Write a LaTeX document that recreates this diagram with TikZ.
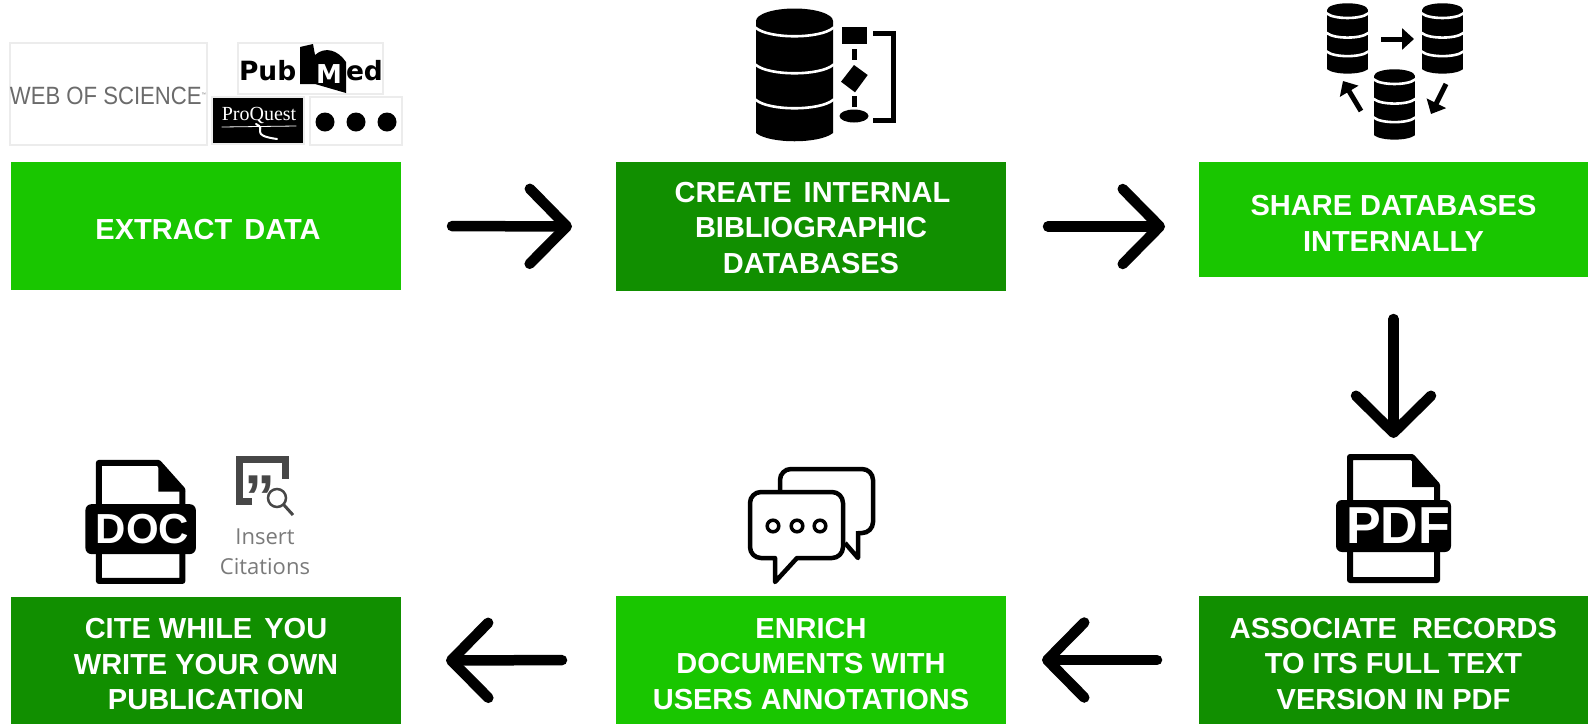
\documentclass[tikz,border=0pt]{standalone}
\usepackage{fontspec}
\setmainfont{Liberation Sans}
\newfontfamily\dejavufont{DejaVu Sans}
\newfontfamily\proquestfont{Liberation Serif}
\newfontfamily\opensansfont{Open Sans}
\usetikzlibrary{arrows.meta}
\definecolor{custcol_light}{RGB}{25, 198, 0}
\definecolor{custcol_dark}{RGB}{17, 143, 0}
\definecolor{custcol_frame}{RGB}{236, 236, 236}
\tikzset{
  stepbox/.style={inner sep=0, outer sep=0, minimum width=390pt, text=white,
    align=center, font=\fontsize{29pt}{35.5pt}\selectfont\bfseries},
  stepa/.style={stepbox, fill=custcol_light},
  stepb/.style={stepbox, fill=custcol_dark},
  flowarrow/.style={line width=10.5pt, -{Straight Barb[length=37pt,width=75pt,round]}, line cap=round},
  logoframe/.style={draw=custcol_frame, line width=1.5pt},
  iconarrow/.style={line width=5pt, -{Triangle[length=12pt,width=21pt]}},
  dbstack/.pic={
    \fill (0,13) ellipse (38.5 and 12.5);
    \fill (-38.5,13) -- (-38.5,125) .. controls (-25,136) and (25,136) .. (38.5,125) -- (38.5,13) -- cycle;
    \foreach \rowy in {20,57,92}
      \draw [white, line width=2.6pt] (-38.5,\rowy) .. controls (-25,\rowy+11) and (25,\rowy+11) .. (38.5,\rowy);
  },
  fileicon/.pic={
    \draw [line width=6pt, line join=round] (3,3) -- (65,3) -- (90,31) -- (90,126) -- (3,126) -- cycle;
    \fill (65,1) -- (65,33) -- (93,33) -- cycle;
    \fill [rounded corners=6pt] (-11,46) rectangle (104,98);
    \node [inner sep=0, outer sep=0, text=white, font=\bfseries] (-label) at (48.5,72) {\tikzpictext};
  },
}
\begin{document}
\begin{tikzpicture}[x=1pt,y=-1pt,line cap=rect]
\useasboundingbox (0,0) rectangle (1588,724);
\def\gapword{\hspace{12pt}}
\def\droptop#1{\rule{0pt}{#1}}
% step boxes
\node [stepa, minimum height=128pt] (extract) at (206,226) {\droptop{28pt}\hspace*{4pt}EXTRACT\gapword DATA};
\node [stepb, minimum height=129pt] (create) at (811,226.5) {\droptop{23pt}\hspace*{3pt}CREATE\gapword INTERNAL\\BIBLIOGRAPHIC\\DATABASES};
\node [stepa, minimum height=115pt, minimum width=389pt] (share) at (1393.5,219.5) {\droptop{27.5pt}SHARE DATABASES\\INTERNALLY};
\node [stepb, minimum height=128pt, minimum width=389pt] (associate) at (1393.5,660) {\droptop{28pt}ASSOCIATE\hspace{15pt}RECORDS\\TO ITS FULL TEXT\\VERSION IN PDF};
\node [stepa, minimum height=128pt] (enrich) at (811,660) {\droptop{28pt}ENRICH\\DOCUMENTS WITH\\USERS ANNOTATIONS};
\node [stepb, minimum height=127pt] (cite) at (206,660.5) {\droptop{28pt}CITE WHILE\gapword YOU\\WRITE YOUR OWN\\PUBLICATION};
% flow
\draw [flowarrow, shorten <=51pt, shorten >=44pt] (extract.east) -- (create.west);
\draw [flowarrow, shorten <=42pt, shorten >=34pt] (create.east) -- (share.west |- create.east);
\draw [flowarrow, shorten <=42pt, shorten >=158pt] (share.south) -- (associate.north);
\draw [flowarrow, shorten <=42pt, shorten >=36pt] (associate.west) -- (enrich.east);
\draw [flowarrow, shorten <=54pt, shorten >=45pt] (enrich.west) -- (cite.east);
% source logos
\draw [logoframe] (10,43) rectangle (207,145);
\node [inner sep=0, outer sep=0, text=black!58, font=\fontsize{25pt}{25pt}\selectfont] (wos) at (108,96) {\scalebox{.885}[1]{WEB OF SCIENCE\raisebox{8pt}{\fontsize{5pt}{5pt}\selectfont™}}};
\draw [logoframe] (238,43) rectangle (383,94);
\node [inner sep=0, outer sep=0, anchor=base west, font=\dejavufont\fontsize{26.5pt}{26.5pt}\selectfont\bfseries] (pub) at (239,80) {Pub};
\fill (300,47) -- (313,44) -- (315,55) .. controls (325,46) and (338,50) .. (346,62) -- (346,93) -- (315,84) -- (300,84) -- cycle;
\node [inner sep=0, outer sep=0, text=white, font=\dejavufont\fontsize{26pt}{26pt}\selectfont\bfseries] (pubm) at (329,74) {M};
\node [inner sep=0, outer sep=0, anchor=base west, font=\dejavufont\fontsize{26.5pt}{26.5pt}\selectfont\bfseries] (pubed) at (346,80) {ed};
\fill [draw=custcol_frame, line width=1.5pt] (212,97) rectangle (304,144);
\node [inner sep=0, outer sep=0, text=white, font=\proquestfont\fontsize{20pt}{20pt}\selectfont] (proquest) at (259,115) {ProQuest};
\draw [white, line width=.8pt] (222,127) -- (296,126);
\draw [white, line width=2pt, line cap=round] (256,124) .. controls (268,129) and (248,135) .. (277,139);
\draw [logoframe] (310,97) rectangle (402,145);
\foreach \dotx in {325,356,387}
  \fill (\dotx,122) ellipse (9.5 and 9.5);
% internal database icon
\pic at (794.5,8) {dbstack};
\fill (842,27) rectangle (867,44);
\draw [line width=5pt, line cap=butt] (854,49) -- (854,60);
\fill (854,65) -- (867.7,75) -- (855,92.3) -- (841,81.7) -- cycle;
\draw [line width=5pt, line cap=butt] (854,96) -- (854,107);
\fill (854,116) ellipse (14.5 and 6.5);
\draw [line width=5pt, line cap=butt] (873,33.5) -- (893.5,33.5) -- (893.5,120) -- (873,120);
% shared database icon
\pic [scale=.53] at (1347.5,3) {dbstack};
\pic [scale=.53] at (1442.5,3) {dbstack};
\pic [scale=.53] at (1394.5,69) {dbstack};
\draw [iconarrow, line cap=butt] (1381,39) -- (1414,39);
\draw [iconarrow, line cap=butt] (1446,84) -- (1431,114);
\draw [iconarrow, line cap=butt] (1361,111) -- (1343,81);
% pdf and doc icons
\pic (pdficon) [pic text={\fontsize{52pt}{52pt}\selectfont\hspace*{5pt}PDF}] at (1347,454) {fileicon};
\pic (docicon) [pic text={\fontsize{42pt}{42pt}\selectfont DOC}, scale=.96] at (96,460) {fileicon};
% insert citations
\draw [black!72, line width=7pt, line cap=butt] (252,501) -- (239.5,501) -- (239.5,459.5) -- (285,459.5) -- (285,479);
\node [inner sep=0, outer sep=0, text=black!72, font=\fontsize{62pt}{62pt}\selectfont\bfseries] (quotes) at (260,497) {”};
\draw [black!72, line width=2.5pt] (277,498) ellipse (9 and 9);
\draw [black!72, line width=3pt, line cap=butt] (283.5,504.5) -- (293,515);
\node [inner sep=0, outer sep=0, text=black!52, align=center, font=\opensansfont\fontsize{22pt}{30pt}\selectfont] (citations) at (265,552) {Insert\\Citations};
% chat icon
\draw [line width=4.5pt, rounded corners=11pt, fill=white, line cap=butt] (780,492) -- (780,469) -- (873,469) -- (873,533) -- (858,533);
\draw [line width=4.5pt, line cap=butt, line join=round] (858,531) -- (858,558) -- (845,543);
\draw [line width=4.5pt, line join=round, fill=white] (775,582) -- (775,558) [rounded corners=11pt] -- (750,558) -- (750,492) -- (843,492) -- (843,558) [sharp corners] -- (797,558) -- cycle;
\foreach \dotx in {773,797,820}
  \draw [line width=3.5pt] (\dotx,526) ellipse (5.8 and 5.8);
\end{tikzpicture}
\end{document}
